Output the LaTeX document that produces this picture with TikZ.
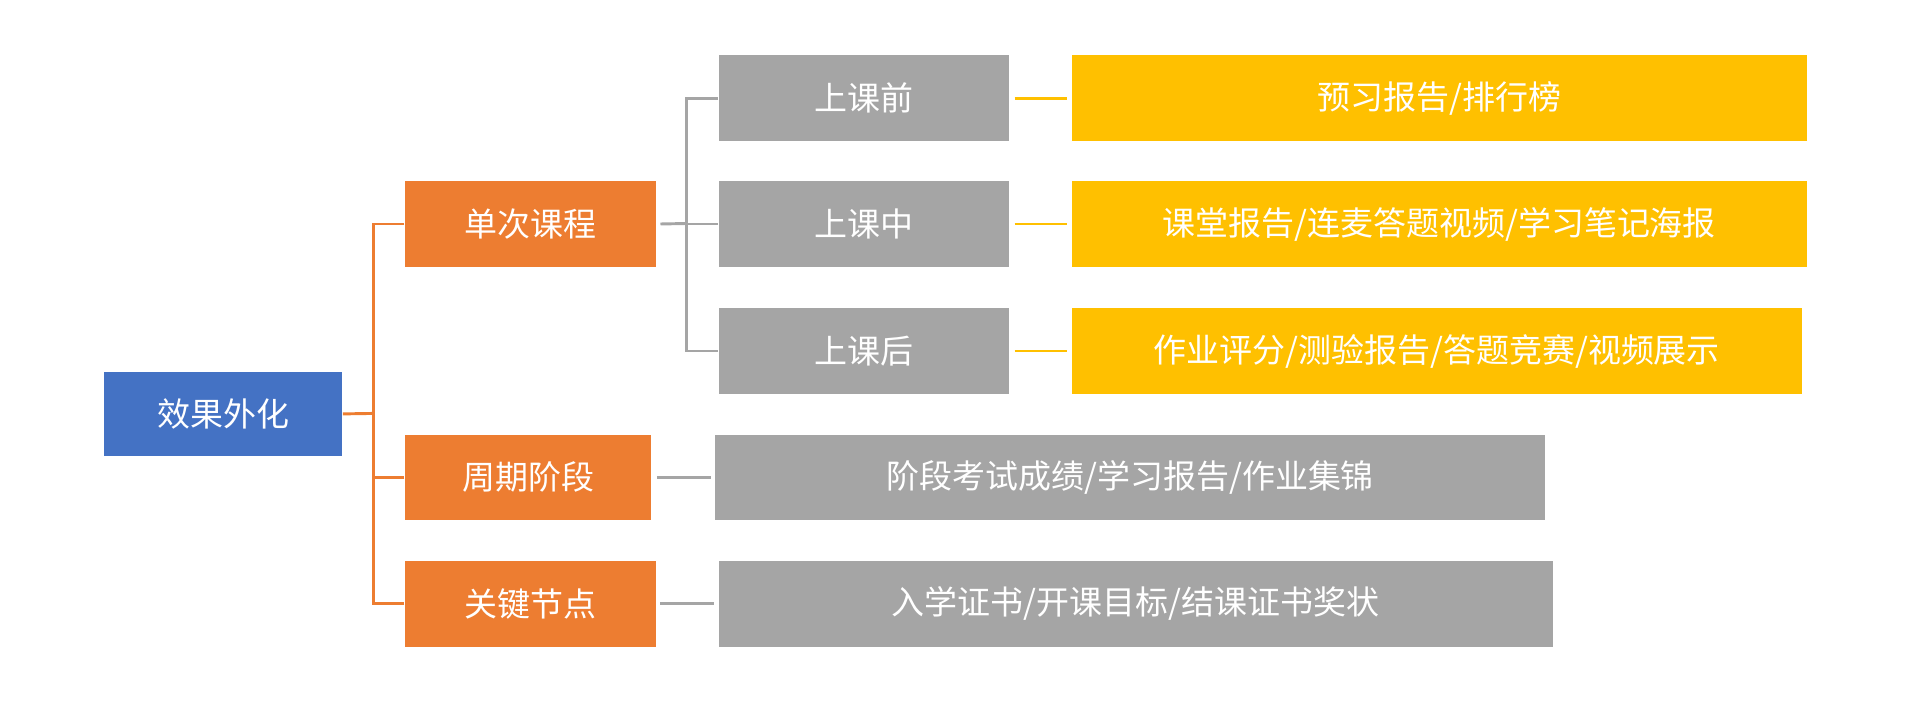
\documentclass[tikz,border=0pt]{standalone}
\usepackage{fontspec}
\newfontfamily\cjk{Noto Sans CJK SC}
\definecolor{cblue}{HTML}{4472C4}
\definecolor{corange}{HTML}{ED7D31}
\definecolor{cgray}{HTML}{A5A5A5}
\definecolor{cyellow}{HTML}{FFC000}
\tikzset{
 box/.style={draw=none,text=white,font=\cjk\fontsize{13.5}{16}\selectfont,inner sep=0pt,anchor=north west},
 oline/.style={draw=corange,line width=1.2pt},
 gline/.style={draw=cgray,line width=1.2pt},
 yline/.style={draw=cyellow,line width=1.2pt},
}
\newcommand{\bx}[7]{\node[box,fill=#1,minimum width={(#4-#3)*0.5pt},minimum height={(#6-#5)*0.5pt}] (#2) at (#3,#5) {#7};}
\begin{document}
\begin{tikzpicture}[x=0.5pt,y=-0.5pt]
\useasboundingbox (0,0) rectangle (1568,578);
\bx{cblue}{root}{85}{280}{304}{373}{效果外化}
\bx{corange}{d1}{331}{537}{148}{218}{单次课程}
\bx{corange}{d2}{331}{533}{356}{425}{周期阶段}
\bx{corange}{d3}{331}{537}{459}{529}{关键节点}
\bx{cgray}{s1}{588}{826}{45}{115}{上课前}
\bx{cgray}{s2}{588}{826}{148}{218}{上课中}
\bx{cgray}{s3}{588}{826}{252}{322}{上课后}
\bx{cyellow}{y1}{877}{1479}{45}{115}{预习报告/排行榜}
\bx{cyellow}{y2}{877}{1479}{148}{218}{课堂报告/连麦答题视频/学习笔记海报}
\bx{cyellow}{y3}{877}{1475}{252}{322}{作业评分/测验报告/答题竞赛/视频展示}
\bx{cgray}{g2}{585}{1265}{356}{425}{阶段考试成绩/学习报告/作业集锦}
\bx{cgray}{g3}{588}{1271}{459}{529}{入学证书/开课目标/结课证书奖状}
\coordinate (j1) at (306,338.5);
\coordinate (j2) at (562,183);
\draw[oline] (root.east) -- (j1);
\draw[oline] (d1.west) -| (j1);
\draw[oline] (d2.west) -| (j1);
\draw[oline] (d3.west) -| (j1);
\draw[gline] ([xshift=1.5pt]d1.east) -- (j2);
\draw[gline] (s1.west) -| (j2);
\draw[gline] (s2.west) -| (j2);
\draw[gline] (s3.west) -| (j2);
\draw[yline] ([xshift=2pt]s1.east) -- ([xshift=-1.5pt]y1.west);
\draw[yline] ([xshift=2pt]s2.east) -- ([xshift=-1.5pt]y2.west);
\draw[yline] ([xshift=2pt]s3.east) -- ([xshift=-1.5pt]y3.west);
\draw[gline] ([xshift=2pt]d2.east) -- ([xshift=-1.5pt]g2.west);
\draw[gline] ([xshift=1.5pt]d3.east) -- ([xshift=-1.5pt]g3.west);
\end{tikzpicture}
\end{document}
